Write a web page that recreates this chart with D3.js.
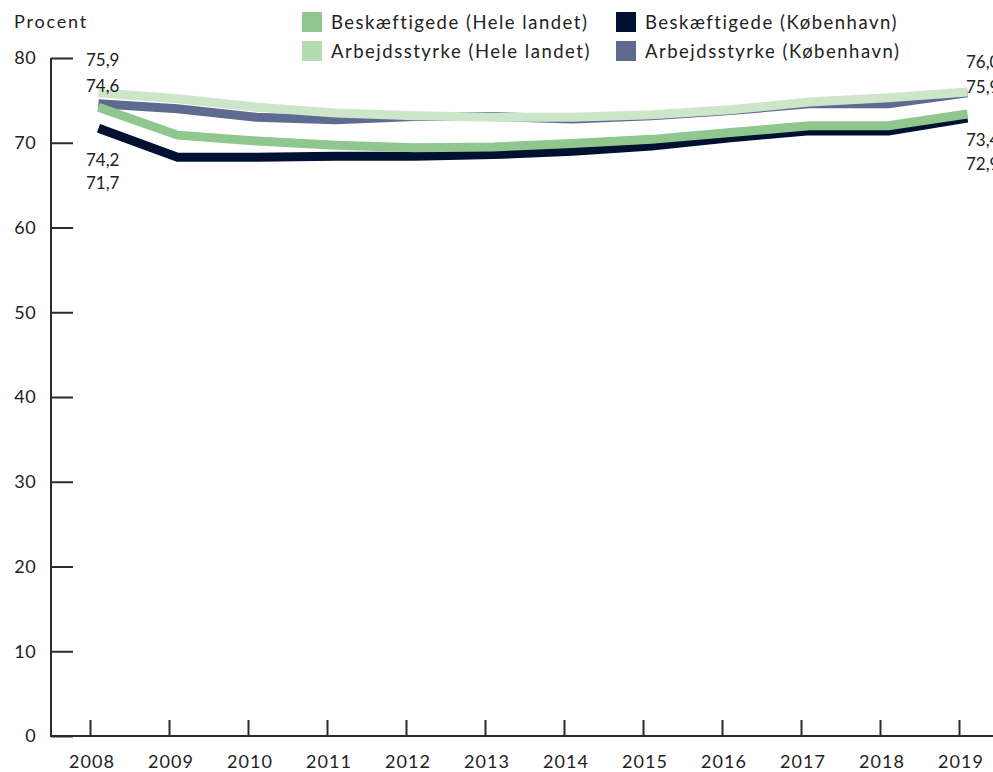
<!DOCTYPE html>
<html>
<head>
<meta charset="utf-8">
<script src="https://cdn.jsdelivr.net/npm/d3@7"></script>
<style>
  html, body { margin: 0; padding: 0; background: #fff; }
  svg { display: block; font-family: Lato, "Open Sans", sans-serif; }
  text { fill: #222; }
</style>
</head>
<body>
<svg id="chart" width="993" height="772"></svg>
<script>
// Years on the x axis
const years = ["2008", "2009", "2010", "2011", "2012", "2013", "2014", "2015", "2016", "2017", "2018", "2019"];

// Percent series
const beskHeleLandet = [74.2, 70.9, 70.2, 69.7, 69.4, 69.5, 69.9, 70.4, 71.2, 72.0, 72.0, 73.4];
const beskKobenhavn  = [71.7, 68.3, 68.3, 68.4, 68.4, 68.6, 69.0, 69.6, 70.6, 71.4, 71.4, 72.9];
const arbHeleLandet  = [75.9, 75.2, 74.2, 73.5, 73.2, 73.0, 73.0, 73.3, 73.9, 74.8, 75.3, 76.0];
const arbKobenhavn   = [74.6, 74.0, 73.0, 72.7, 73.1, 73.1, 72.8, 73.2, 73.8, 74.6, 74.6, 75.9];

// Series names
const seriesNames = [
  "Beskæftigede (Hele landet)",
  "Arbejdsstyrke (Hele landet)",
  "Beskæftigede (København)",
  "Arbejdsstyrke (København)"
];

const yTicks = [0, 10, 20, 30, 40, 50, 60, 70, 80];

// Styling
const lineColors   = ["#8fc78f", "#cde5c9", "#001031", "#5e6a8f"];
const legendColors = ["#8fc78f", "#b4dab2", "#001031", "#5e6a8f"];

const series = [
  { name: seriesNames[0], values: beskHeleLandet, line: lineColors[0], swatch: legendColors[0] },
  { name: seriesNames[1], values: arbHeleLandet,  line: lineColors[1], swatch: legendColors[1] },
  { name: seriesNames[2], values: beskKobenhavn,  line: lineColors[2], swatch: legendColors[2] },
  { name: seriesNames[3], values: arbKobenhavn,   line: lineColors[3], swatch: legendColors[3] }
];

const svg = d3.select("#chart");
const fmt = v => d3.format(".1f")(v).replace(".", ",");

// Scales
const y = d3.scaleLinear().domain([0, 80]).range([736, 58]);
const xAxisScale = d3.scalePoint().domain(years).range([90, 959]);
const xLine = d3.scalePoint().domain(years).range([98.5, 967.5]);

const axisColor = "#2b2b2b";

// Y axis
const yAxis = svg.append("g").attr("transform", "translate(51,0)")
  .call(d3.axisRight(y).tickValues(yTicks).tickSize(22).tickFormat(""));
yAxis.select(".domain").attr("stroke", axisColor).attr("stroke-width", 2)
  .attr("d", `M0,${y(80)}V${y(0)}`);
yAxis.selectAll(".tick line").attr("stroke", axisColor).attr("stroke-width", 2);

svg.append("g").selectAll("text").data(yTicks).join("text")
  .attr("x", 36).attr("y", d => y(d)).attr("dy", "0.36em")
  .attr("text-anchor", "end").attr("font-size", 18).attr("letter-spacing", 0.4)
  .text(d => d);

// X axis
const xAxis = svg.append("g").attr("transform", "translate(0,736)")
  .call(d3.axisTop(xAxisScale).tickSize(16).tickFormat(""));
xAxis.select(".domain").attr("stroke", axisColor).attr("stroke-width", 2)
  .attr("d", "M50,0H993");
xAxis.selectAll(".tick line").attr("stroke", axisColor).attr("stroke-width", 2);

svg.append("g").selectAll("text").data(years).join("text")
  .attr("x", d => xAxisScale(d) + 2).attr("y", 768)
  .attr("text-anchor", "middle").attr("font-size", 18).attr("letter-spacing", 1)
  .text(d => d);

// Unit label
svg.append("text").attr("x", 14).attr("y", 28).attr("font-size", 18)
  .attr("letter-spacing", 1.8).text("Procent");

// Lines: København drawn first, Hele landet on top
const line = d3.line().x((d, i) => xLine(years[i])).y(d => y(d));
const drawOrder = [series[2], series[3], series[0], series[1]];
svg.append("g").selectAll("path").data(drawOrder).join("path")
  .attr("d", s => line(s.values))
  .attr("fill", "none")
  .attr("stroke", s => s.line)
  .attr("stroke-width", 9)
  .attr("stroke-linejoin", "miter")
  .attr("stroke-linecap", "butt");

// End labels (first and last value of each series)
function endLabels(idx, xPos, topYs, bottomYs) {
  const above = [series[1], series[3]]; // Arbejdsstyrke
  const below = [series[0], series[2]]; // Beskæftigede
  const g = svg.append("g").attr("font-size", 17);
  above.forEach((s, k) => g.append("text").attr("x", xPos).attr("y", topYs[k])
    .attr("dy", "0.36em").text(fmt(s.values[idx])));
  below.forEach((s, k) => g.append("text").attr("x", xPos).attr("y", bottomYs[k])
    .attr("dy", "0.36em").text(fmt(s.values[idx])));
}
endLabels(0, 86, [60, 86], [160, 183]);
endLabels(years.length - 1, 966, [62, 87], [140, 164]);

// Legend
const legendPos = [[302, 12], [302, 41], [616, 12], [616, 41]];
const lg = svg.append("g");
series.forEach((s, i) => {
  const [lx, ly] = legendPos[i];
  lg.append("rect").attr("x", lx).attr("y", ly).attr("width", 20).attr("height", 20).attr("fill", s.swatch);
  lg.append("text").attr("x", lx + 29).attr("y", ly + 10).attr("dy", "0.36em")
    .attr("font-size", 18.5).attr("letter-spacing", 1.5).text(s.name);
});
</script>
</body>
</html>
